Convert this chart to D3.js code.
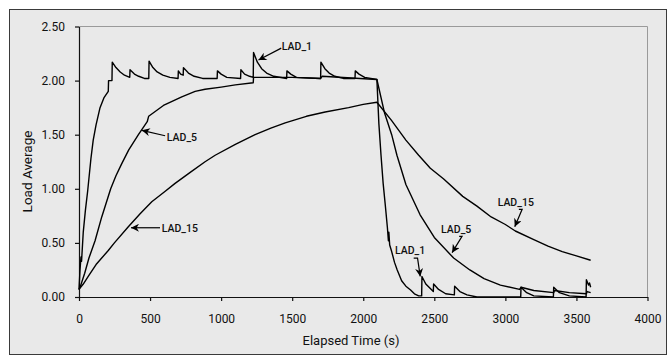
<!DOCTYPE html>
<html>
<head>
<meta charset="utf-8">
<script src="https://cdn.jsdelivr.net/npm/d3@7"></script>
<style>
  html, body { margin: 0; padding: 0; background: #fff; }
  svg { display: block; font-family: Roboto, "Open Sans", sans-serif; }
</style>
</head>
<body>
<div id="chart"></div>
<script>
// [elapsed seconds, load average]
const lad1 = [
  [0, 0.07], [7, 0.25], [14, 0.37], [18, 0.33], [30, 0.60], [45, 0.80], [61, 0.98], [84, 1.28],
  [100, 1.45], [120, 1.59], [148, 1.75], [175, 1.84], [206, 1.90], [208, 2.00], [232, 2.00],
  [234, 2.17], [260, 2.12], [290, 2.08], [320, 2.05], [357, 2.03],
  [359, 2.10], [390, 2.06], [420, 2.04], [460, 2.02], [491, 2.02],
  [493, 2.18], [520, 2.12], [550, 2.08], [590, 2.05], [640, 2.03], [697, 2.02],
  [699, 2.09], [715, 2.06], [733, 2.05],
  [735, 2.12], [770, 2.07], [810, 2.04], [870, 2.02], [972, 2.02],
  [974, 2.09], [1000, 2.06], [1040, 2.03], [1137, 2.02],
  [1139, 2.10], [1165, 2.06], [1200, 2.04], [1226, 2.03],
  [1228, 2.26], [1255, 2.17], [1285, 2.11], [1320, 2.07], [1370, 2.04], [1461, 2.02],
  [1463, 2.09], [1490, 2.06], [1530, 2.03], [1700, 2.02],
  [1702, 2.17], [1730, 2.11], [1760, 2.07], [1800, 2.04], [1860, 2.02], [1942, 2.02],
  [1944, 2.09], [1970, 2.06], [2010, 2.03], [2096, 2.01],
  [2110, 1.60], [2125, 1.31], [2140, 1.05], [2155, 0.85], [2170, 0.64], [2177, 0.52],
  [2180, 0.60], [2186, 0.48], [2200, 0.42], [2220, 0.32], [2239, 0.25], [2270, 0.15],
  [2300, 0.10], [2333, 0.065], [2360, 0.03], [2390, 0.01], [2411, 0.01],
  [2413, 0.19], [2440, 0.12], [2470, 0.08], [2493, 0.05],
  [2495, 0.12], [2530, 0.07], [2580, 0.03], [2641, 0.02],
  [2643, 0.10], [2680, 0.05], [2730, 0.02], [2800, 0.00], [3108, 0.00],
  [3110, 0.09], [3150, 0.04], [3200, 0.01], [3338, 0.00],
  [3340, 0.09], [3380, 0.04], [3450, 0.01], [3568, 0.00],
  [3570, 0.16], [3585, 0.11], [3592, 0.13], [3600, 0.09]
];

const lad5 = [
  [0, 0.07], [10, 0.10], [40, 0.22], [70, 0.36], [113, 0.52], [160, 0.74], [223, 1.00],
  [260, 1.12], [300, 1.23], [350, 1.36], [418, 1.50], [480, 1.62], [490, 1.67],
  [594, 1.77], [723, 1.85], [817, 1.90], [887, 1.92], [1000, 1.94], [1100, 1.96], [1226, 1.98],
  [1228, 2.03], [1500, 2.03], [1700, 2.02], [1710, 2.04], [2096, 2.01],
  [2150, 1.70], [2200, 1.50], [2237, 1.31], [2300, 1.04], [2400, 0.76], [2500, 0.55],
  [2636, 0.36], [2750, 0.25], [2850, 0.17], [2965, 0.11], [3100, 0.07], [3110, 0.09],
  [3200, 0.06], [3340, 0.04], [3345, 0.06], [3450, 0.04], [3570, 0.03], [3575, 0.05], [3600, 0.04]
];

const lad15 = [
  [0, 0.07], [30, 0.12], [65, 0.19], [120, 0.30], [206, 0.43], [249, 0.50], [347, 0.65],
  [430, 0.77], [512, 0.88], [600, 0.97], [676, 1.05], [780, 1.15], [887, 1.25], [958, 1.31],
  [1100, 1.41], [1239, 1.50], [1350, 1.56], [1451, 1.61], [1600, 1.67], [1732, 1.71],
  [1897, 1.75], [2000, 1.78], [2096, 1.80],
  [2200, 1.63], [2300, 1.45], [2390, 1.31], [2472, 1.19], [2566, 1.09], [2700, 0.93],
  [2800, 0.84], [2900, 0.74], [3000, 0.67], [3070, 0.61], [3200, 0.53], [3300, 0.47],
  [3400, 0.42], [3500, 0.38], [3600, 0.34]
];

const xTicks = [0, 500, 1000, 1500, 2000, 2500, 3000, 3500, 4000];
const yTicks = [0, 0.5, 1.0, 1.5, 2.0, 2.5];

// label text position and arrow path (data units), arrow ends at the curve
const labels = [
  { text: "LAD_1",  tx: 1427, ty: 2.32, anchor: "start",  arrow: [[1423, 2.30], [1263, 2.19]] },
  { text: "LAD_5",  tx: 618,  ty: 1.48, anchor: "start",  arrow: [[606, 1.49], [442, 1.54]] },
  { text: "LAD_15", tx: 582,  ty: 0.64, anchor: "start",  arrow: [[570, 0.64], [366, 0.64]] },
  { text: "LAD_15", tx: 3073, ty: 0.875, anchor: "middle", arrow: [[3095, 0.81], [3118, 0.81], [3066, 0.65]] },
  { text: "LAD_5",  tx: 2654, ty: 0.626, anchor: "middle", arrow: [[2675, 0.56], [2695, 0.56], [2625, 0.41]] },
  { text: "LAD_1",  tx: 2330, ty: 0.43, anchor: "middle", arrow: [[2355, 0.36], [2382, 0.36], [2401, 0.19]] }
];

const width = 668, height = 356;
const plotLeft = 79, plotRight = 647.5, plotTop = 26.5, plotBottom = 297;

const svg = d3.select("#chart").append("svg")
  .attr("width", width)
  .attr("height", height);

svg.append("rect")
  .attr("x", 9.5).attr("y", 9.5)
  .attr("width", 657).attr("height", 345)
  .attr("fill", "#e9e9e9")
  .attr("stroke", "#3a3a3a")
  .attr("stroke-width", 1);

const x = d3.scaleLinear().domain([0, 4000]).range([plotLeft, plotRight]);
const y = d3.scaleLinear().domain([0, 2.5]).range([plotBottom, plotTop]);

// light frame on top and right of the plot area
svg.append("path")
  .attr("d", `M${plotLeft},${plotTop}H${plotRight}V${plotBottom}`)
  .attr("fill", "none")
  .attr("stroke", "#9a9a9a");

const xAxis = svg.append("g")
  .attr("transform", `translate(0,${plotBottom})`)
  .call(d3.axisBottom(x).tickValues(xTicks).tickFormat(d3.format("d")).tickSize(4).tickSizeOuter(0).tickPadding(13));

const yAxis = svg.append("g")
  .attr("transform", `translate(${plotLeft},0)`)
  .call(d3.axisLeft(y).tickValues(yTicks).tickFormat(d3.format(".2f")).tickSize(4).tickSizeOuter(0).tickPadding(10));

[xAxis, yAxis].forEach(a => {
  a.selectAll("path, line").attr("stroke", "#111").attr("stroke-width", 1.2);
  a.selectAll("text").attr("fill", "#111").style("font-size", "12px").style("font-family", "Roboto, sans-serif");
});

svg.append("text")
  .attr("x", 351).attr("y", 345)
  .attr("text-anchor", "middle")
  .attr("fill", "#111")
  .style("font-size", "13px")
  .text("Elapsed Time (s)");

svg.append("text")
  .attr("transform", "translate(31.5,171.5) rotate(-90)")
  .attr("text-anchor", "middle")
  .attr("fill", "#111")
  .style("font-size", "13.5px")
  .text("Load Average");

const line = d3.line().x(d => x(d[0])).y(d => y(d[1]));

svg.selectAll("path.series")
  .data([lad1, lad5, lad15])
  .enter()
  .append("path")
  .attr("class", "series")
  .attr("d", line)
  .attr("fill", "none")
  .attr("stroke", "#000")
  .attr("stroke-width", 1.4)
  .attr("stroke-linejoin", "round");

svg.append("defs").append("marker")
  .attr("id", "head")
  .attr("viewBox", "0 0 10 10")
  .attr("refX", 10).attr("refY", 5)
  .attr("markerUnits", "userSpaceOnUse")
  .attr("markerWidth", 10).attr("markerHeight", 8)
  .attr("orient", "auto")
  .append("path")
  .attr("d", "M0,0L10,5L0,10L3,5Z")
  .attr("fill", "#000");

svg.selectAll("path.arrow")
  .data(labels)
  .enter()
  .append("path")
  .attr("class", "arrow")
  .attr("d", d => line(d.arrow))
  .attr("fill", "none")
  .attr("stroke", "#000")
  .attr("stroke-width", 1.2)
  .attr("marker-end", "url(#head)");

svg.selectAll("text.lab")
  .data(labels)
  .enter()
  .append("text")
  .attr("class", "lab")
  .attr("x", d => x(d.tx))
  .attr("y", d => y(d.ty))
  .attr("dy", "0.36em")
  .attr("text-anchor", d => d.anchor)
  .attr("fill", "#111")
  .style("font-size", "10.5px")
  .style("font-weight", 500)
  .text(d => d.text);
</script>
</body>
</html>
